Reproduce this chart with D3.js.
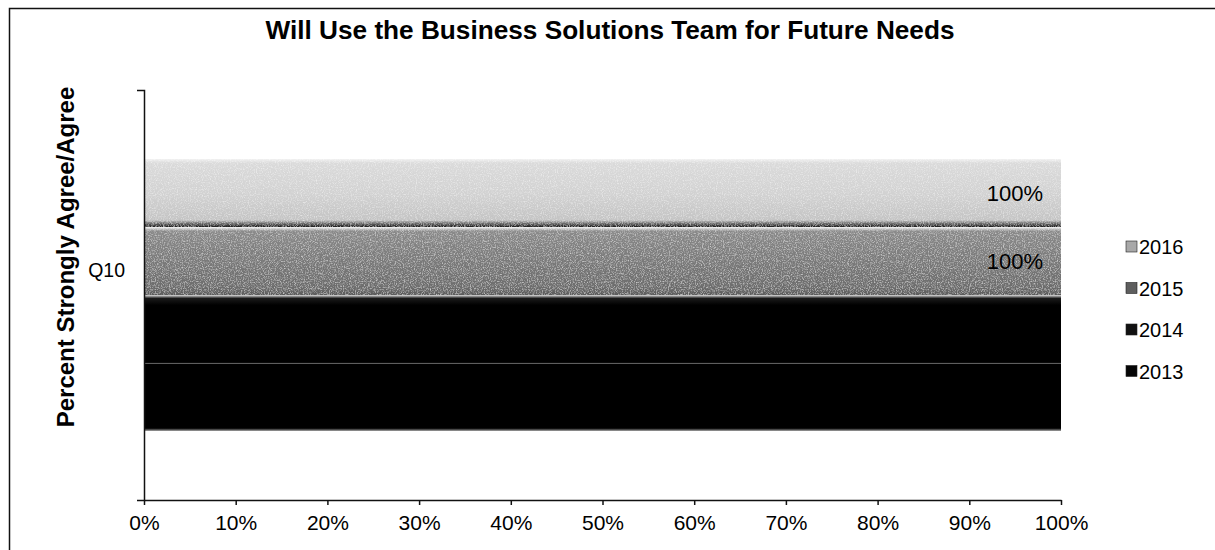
<!DOCTYPE html>
<html>
<head>
<meta charset="utf-8">
<script src="https://cdn.jsdelivr.net/npm/d3@7"></script>
<style>
  html, body { margin: 0; padding: 0; background: #fff; }
  svg { display: block; font-family: "Liberation Sans", Arial, sans-serif; }
</style>
</head>
<body>
<svg id="chart" width="1215" height="550"></svg>
<script>
// Survey item and yearly results (percent strongly agree / agree)
const categories = ["Q10"];
const years = ["2016", "2015", "2014", "2013"];
const values2016 = [100];
const values2015 = [100];
const values2014 = [100];
const values2013 = [100];
const xTicks = [0, 10, 20, 30, 40, 50, 60, 70, 80, 90, 100];

const seriesValues = { "2016": values2016, "2015": values2015, "2014": values2014, "2013": values2013 };
const fills = { "2016": "url(#g2016)", "2015": "url(#g2015)", "2014": "url(#g2014)", "2013": "url(#g2013)" };
const textured = { "2016": true, "2015": true, "2014": false, "2013": false };
const legendFills = { "2016": "#a8a8a8", "2015": "#5e5e5e", "2014": "#111", "2013": "#050505" };

const svg = d3.select("#chart");
const plot = { left: 144, right: 1061, top: 90, bottom: 500 };
const FONT = "'Liberation Sans', Arial, sans-serif";

// Gradients and a speckle texture for the bars
const defs = svg.append("defs");
function vGrad(id, stops) {
  const g = defs.append("linearGradient").attr("id", id)
    .attr("x1", 0).attr("y1", 0).attr("x2", 0).attr("y2", 1);
  stops.forEach(s => g.append("stop").attr("offset", s[0]).attr("stop-color", s[1]));
}
vGrad("g2016", [[0, "#f0f0f0"], [0.06, "#dadada"], [0.5, "#d2d2d2"], [0.9, "#c4c4c4"], [0.96, "#555"], [1, "#1a1a1a"]]);
vGrad("g2015", [[0, "#f6f6f6"], [0.06, "#8a8a8a"], [0.5, "#7a7a7a"], [0.9, "#6c6c6c"], [1, "#5a5a5a"]]);
vGrad("g2014", [[0, "#e0e0e0"], [0.05, "#1a1a1a"], [0.15, "#000"], [1, "#000"]]);
vGrad("g2013", [[0, "#9a9a9a"], [0.02, "#000"], [0.96, "#000"], [1, "#999"]]);

const noise = defs.append("filter").attr("id", "speckle")
  .attr("x", 0).attr("y", 0).attr("width", 1).attr("height", 1);
noise.append("feTurbulence").attr("type", "fractalNoise").attr("baseFrequency", 0.85)
  .attr("numOctaves", 2).attr("seed", 4).attr("result", "n");
noise.append("feColorMatrix").attr("in", "n").attr("type", "matrix")
  .attr("values", "0 0 0 0 1  0 0 0 0 1  0 0 0 0 1  0 0 0 1.2 -0.55").attr("result", "nm");
noise.append("feComposite").attr("in", "nm").attr("in2", "SourceGraphic").attr("operator", "in").attr("result", "nc");
const merge = noise.append("feMerge");
merge.append("feMergeNode").attr("in", "SourceGraphic");
merge.append("feMergeNode").attr("in", "nc");

// Frame
svg.append("path").attr("d", "M9.5,550 V8.5 H1215").attr("fill", "none")
  .attr("stroke", "#111").attr("stroke-width", 1.5);

// Scales
const x = d3.scaleLinear().domain([0, 100]).range([plot.left, plot.right]);
const y0 = d3.scaleBand().domain(categories).range([plot.top, plot.bottom]).paddingOuter(0.254).paddingInner(0);
const y1 = d3.scaleBand().domain(years).range([0, y0.bandwidth()]).padding(0);

// Bars with value labels
const groups = svg.append("g").selectAll("g").data(categories).enter().append("g")
  .attr("transform", d => `translate(0,${y0(d)})`);

categories.forEach((cat, ci) => {
  const g = groups.filter(d => d === cat);
  years.forEach(yr => {
    const v = seriesValues[yr][ci];
    const r = g.append("rect")
      .attr("x", x(0)).attr("y", y1(yr))
      .attr("width", x(v) - x(0)).attr("height", y1.bandwidth())
      .attr("fill", fills[yr]);
    if (textured[yr]) r.attr("filter", "url(#speckle)");
    g.append("text")
      .attr("x", x(v) - 18).attr("y", y1(yr) + y1.bandwidth() / 2)
      .attr("dy", "0.35em").attr("text-anchor", "end")
      .attr("font-size", 22).attr("fill", "#000")
      .text(v + "%");
  });
});

// X axis
const xAxis = d3.axisBottom(x).tickValues(xTicks).tickFormat(d => d + "%").tickSize(5).tickSizeOuter(0);
const gx = svg.append("g").attr("transform", `translate(0,${plot.bottom})`).call(xAxis);
gx.select(".domain").attr("stroke", "#111").attr("stroke-width", 1.5);
gx.selectAll(".tick line").attr("stroke", "#111").attr("stroke-width", 1.5);
gx.selectAll(".tick text").attr("font-size", 21).attr("fill", "#000")
  .attr("y", 30).attr("dy", 0).attr("font-family", FONT);

// Y axis
const yAxis = d3.axisLeft(y0).tickSize(0).tickSizeOuter(7);
const gy = svg.append("g").attr("transform", `translate(${plot.left},0)`).call(yAxis);
gy.select(".domain").attr("stroke", "#111").attr("stroke-width", 1.5);
gy.selectAll(".tick text").attr("font-size", 19.5).attr("fill", "#000")
  .attr("x", -19).attr("y", -25).attr("dy", "0.35em").attr("font-family", FONT);

// Title
svg.append("text").attr("x", 610).attr("y", 39).attr("text-anchor", "middle")
  .attr("font-size", 26.2).attr("font-weight", "bold").attr("fill", "#000")
  .text("Will Use the Business Solutions Team for Future Needs");

// Y axis title
svg.append("text").attr("transform", "translate(74,257) rotate(-90)")
  .attr("text-anchor", "middle").attr("font-size", 24).attr("font-weight", "bold").attr("fill", "#000")
  .text("Percent Strongly Agree/Agree");

// Legend
const legend = svg.append("g").selectAll("g").data(years).enter().append("g")
  .attr("transform", (d, i) => `translate(1126,${247 + i * 41.5})`);
legend.append("rect").attr("x", 0).attr("y", -6).attr("width", 11).attr("height", 11)
  .attr("fill", d => legendFills[d]).attr("stroke", "#222").attr("stroke-width", 0.6);
legend.append("text").attr("x", 13).attr("dy", "0.36em").attr("font-size", 20).attr("fill", "#000")
  .text(d => d);
</script>
</body>
</html>
